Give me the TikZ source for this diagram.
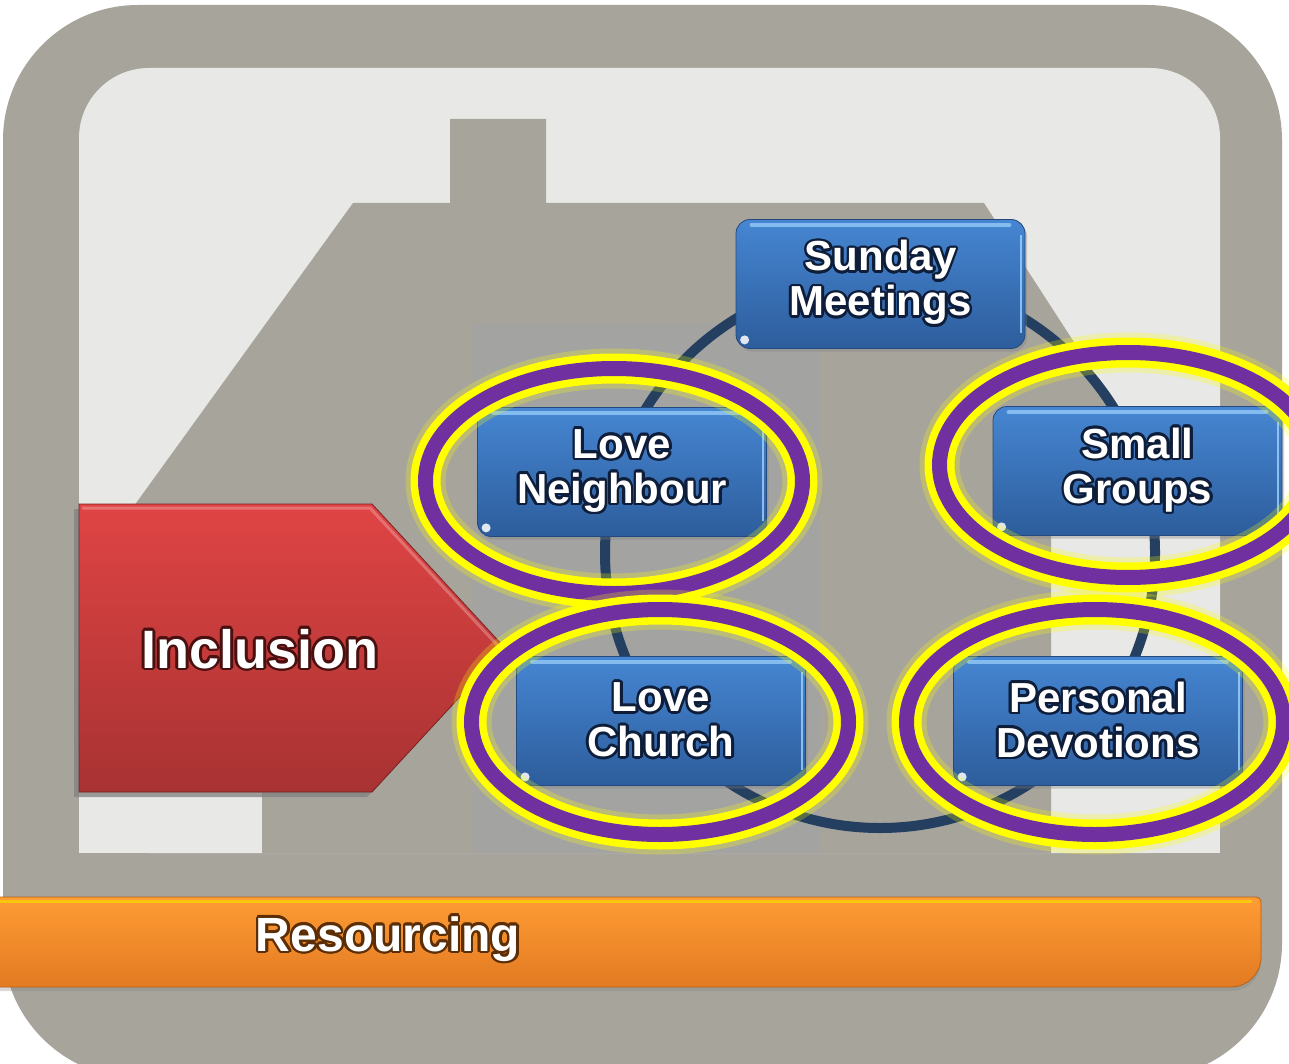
\documentclass[tikz,border=0pt]{standalone}
\usepackage{fontspec}
\setmainfont{Liberation Sans}
\usepackage[copies]{contour}
\usetikzlibrary{shapes.geometric,shadows}
\definecolor{frame}{HTML}{A7A49C}
\definecolor{sky}{HTML}{E8E8E6}
\definecolor{doorgray}{HTML}{A3A3A2}
\definecolor{ringcol}{HTML}{243F60}
\definecolor{boxtop}{HTML}{4686D2}
\definecolor{boxbot}{HTML}{2D5D9C}
\definecolor{navyglow}{HTML}{0E1E3A}
\definecolor{redtop}{HTML}{E04444}
\definecolor{redbot}{HTML}{A83232}
\definecolor{redglow}{HTML}{4A1010}
\definecolor{orangetop}{HTML}{FF9C34}
\definecolor{orangebot}{HTML}{E27A22}
\definecolor{brownglow}{HTML}{5C2E06}
\definecolor{ringpurple}{HTML}{7030A0}
\definecolor{glowyellow}{HTML}{FFFF00}
\definecolor{shine}{HTML}{9FD4FF}
\contournumber{16}
\contourlength{2.6pt}
\tikzset{
  stepbox/.style={rectangle, rounded corners=14pt, minimum width=289pt, minimum height=129pt,
    top color=boxtop, bottom color=boxbot, draw=boxbot!80!black, line width=0.8pt,
    align=center, text=white, inner sep=0pt,
    font=\fontsize{42pt}{45pt}\selectfont\bfseries,
    drop shadow={opacity=0.35, shadow xshift=2pt, shadow yshift=-3pt}},
  halo/.style={ellipse, minimum width=377pt, minimum height=225pt, inner sep=0pt,
    draw=ringpurple, line width=15pt,
    preaction={draw=glowyellow, line width=40pt, opacity=0.25},
    preaction={draw=glowyellow, line width=30pt}},
  ringline/.style={draw=ringcol, line width=10pt},
  redarrow/.style={top color=redtop, bottom color=redbot, draw=redbot!70!black, line width=0.8pt,
    drop shadow={shadow xshift=-5pt, shadow yshift=-5pt, opacity=0.75}},
  orangebar/.style={top color=orangetop, bottom color=orangebot, draw=orangebot!80!black, line width=0.8pt,
    drop shadow={shadow xshift=0pt, shadow yshift=-4pt, opacity=0.3}},
  boxshine/.style={draw=shine, line width=4pt, opacity=0.7, line cap=round},
  bigtext/.style={text=white, inner sep=0pt}
}
\begin{document}
\begin{tikzpicture}[x=1pt,y=-1pt]
\useasboundingbox (0,0) rectangle (1289,1064);
\clip (0,0) rectangle (1289,1064);
\fill[white] (0,0) rectangle (1289,1064);
% frame and sky
\fill[frame, rounded corners=135pt] (3,5) rectangle (1282,1078);
\fill[sky, rounded corners=70pt] (79,68) rectangle (1220,853);
\fill[sky] (79,700) rectangle (1220,853);
% house
\fill[frame] (262,853) -- (262,600) -- (79,600) -- (79,582) -- (353,203) -- (450,203) -- (450,119)
  -- (546,119) -- (546,203) -- (984,203) -- (1189,520) -- (1051,520) -- (1051,853) -- cycle;
\fill[doorgray] (473,323) rectangle (820,853);
% resourcing bar
\path[orangebar] (-20,897) -- (1255,897) .. controls (1259,897) and (1261,899) .. (1261,903)
  -- (1261,957) .. controls (1261,973.6) and (1247.6,987) .. (1231,987) -- (-20,987) -- cycle;
\draw[draw=yellow!70!orange, line width=3pt, opacity=0.8] (-20,901) -- (1252,901);
\node[bigtext, font=\fontsize{48pt}{50pt}\selectfont\bfseries] (res) at (388,940) {\contour{brownglow}{Resourcing}};
% ring
\coordinate (hub) at (880,553);
\draw[ringline] (hub) circle[radius=275pt];
% inclusion arrow
\path[redarrow] (79,504) -- (372,504) -- (505,648) -- (372,792) -- (79,792) -- cycle;
\draw[white, opacity=0.25, line width=3pt] (82,508) -- (370,508) -- (500,648);
\node[bigtext, font=\fontsize{54pt}{56pt}\selectfont\bfseries] (incl) at (260,650) {\contour{redglow}{Inclusion}};
% boxes
\node[stepbox] (sm) at (880.5,284) {\contour{navyglow}{Sunday}\\\contour{navyglow}{Meetings}};
\node[stepbox] (ln) at (622,472) {\contour{navyglow}{Love}\\\contour{navyglow}{Neighbour}};
\node[stepbox] (sg) at (1137.5,471) {\contour{navyglow}{Small}\\\contour{navyglow}{Groups}};
\node[stepbox] (lc) at (661,721) {\contour{navyglow}{Love}\\\contour{navyglow}{Church}};
\node[stepbox] (pd) at (1098,721) {\contour{navyglow}{Personal}\\\contour{navyglow}{Devotions}};
\foreach \n in {sm,ln,sg,lc,pd}{
  \draw[boxshine] ([xshift=16pt,yshift=-6pt]\n.north west) -- ([xshift=-16pt,yshift=-6pt]\n.north east);
  \draw[draw=shine, line width=2pt, opacity=0.8] ([xshift=-4pt,yshift=-16pt]\n.north east) -- ([xshift=-4pt,yshift=16pt]\n.south east);
  \fill[white, opacity=0.85] ([xshift=9pt,yshift=9pt]\n.south west) circle[radius=4.5pt];
}
% halos
\node[halo] (hln) at (614,481) {};
\node[halo] (hsg) at (1128,465) {};
\node[halo] (hlc) at (660,722) {};
\node[halo] (hpd) at (1095,722) {};
\end{tikzpicture}
\end{document}
